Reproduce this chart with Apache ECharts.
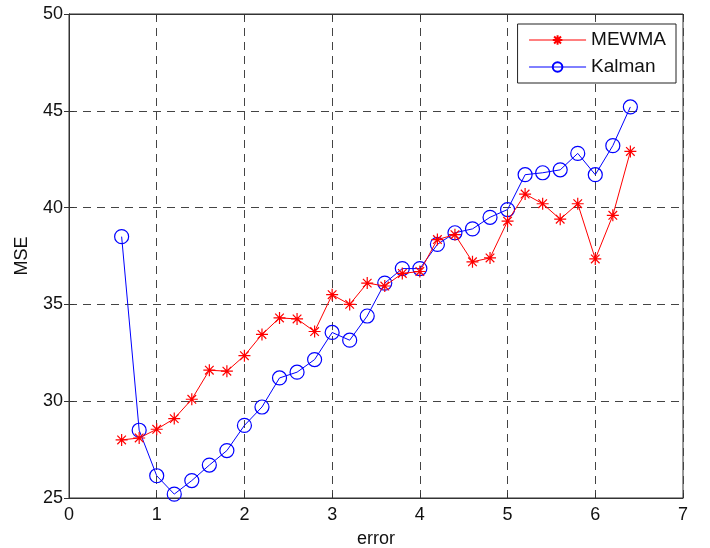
<!DOCTYPE html>
<html>
<head>
<meta charset="utf-8">
<script src="https://cdn.jsdelivr.net/npm/echarts@6/dist/echarts.min.js"></script>
<style>
  html, body { margin: 0; padding: 0; background: #fff; }
  #chart { width: 710px; height: 548px; }
</style>
</head>
<body>
<div id="chart"></div>
<script>
var errors = [0.6, 0.8, 1.0, 1.2, 1.4, 1.6, 1.8, 2.0, 2.2, 2.4, 2.6, 2.8, 3.0, 3.2, 3.4,
              3.6, 3.8, 4.0, 4.2, 4.4, 4.6, 4.8, 5.0, 5.2, 5.4, 5.6, 5.8, 6.0, 6.2, 6.4];
var mewma = [28.0, 28.1, 28.55, 29.1, 30.1, 31.6, 31.55, 32.35, 33.45, 34.3, 34.25, 33.6, 35.5, 35.0, 36.1,
             35.95, 36.6, 36.7, 38.35, 38.6, 37.2, 37.4, 39.3, 40.7, 40.2, 39.4, 40.2, 37.35, 39.6, 42.9];
var kalman = [38.5, 28.5, 26.15, 25.2, 25.9, 26.7, 27.45, 28.75, 29.7, 31.2, 31.5, 32.15, 33.55, 33.15, 34.4,
              36.1, 36.85, 36.85, 38.1, 38.7, 38.9, 39.5, 39.9, 41.7, 41.8, 41.95, 42.8, 41.7, 43.2, 45.2];

function pairs(xs, ys) {
    return xs.map(function (x, i) { return [x, ys[i]]; });
}

var asterisk = 'path://M0,-6L0,6M-6,0L6,0M-4.3,-4.3L4.3,4.3M-4.3,4.3L4.3,-4.3';
var labelFont = { color: '#111', fontSize: 18, fontFamily: 'Liberation Sans' };
var gridDash = { color: '#444', width: 1, type: [8, 6] };

var myChart = echarts.init(document.getElementById('chart'), null, { renderer: 'canvas' });

var option = {
    backgroundColor: '#fff',
    animation: false,
    grid: {
        left: 69, right: 27, top: 14, bottom: 50,
        outerBoundsMode: 'none', containLabel: false,
        show: true, borderColor: '#333', borderWidth: 1
    },
    legend: {
        right: 34, top: 24,
        orient: 'vertical',
        itemWidth: 57, itemHeight: 12, itemGap: 7,
        padding: [6, 10, 6, 11],
        borderColor: '#222', borderWidth: 1,
        backgroundColor: '#fff',
        lineStyle: { width: 1 },
        textStyle: { color: '#111', fontSize: 19, lineHeight: 20, fontFamily: 'Liberation Sans' },
        data: ['MEWMA', 'Kalman']
    },
    xAxis: [{
        type: 'value', min: 0, max: 7, interval: 1,
        name: 'error', nameLocation: 'middle', nameGap: 32,
        nameTextStyle: labelFont,
        axisLine: { onZero: false, lineStyle: { color: '#333' } },
        axisTick: { inside: true, length: 5, lineStyle: { color: '#333' } },
        axisLabel: Object.assign({ margin: 8 }, labelFont),
        splitLine: { show: true, lineStyle: gridDash }
    }, {
        type: 'value', min: 0, max: 7, interval: 1, position: 'top',
        axisLine: { lineStyle: { color: '#333' } },
        axisTick: { inside: true, length: 5, lineStyle: { color: '#333' } },
        axisLabel: { show: false }, splitLine: { show: false }
    }],
    yAxis: [{
        type: 'value', min: 25, max: 50, interval: 5,
        name: 'MSE', nameLocation: 'middle', nameGap: 38,
        nameTextStyle: labelFont,
        axisLine: { show: true, onZero: false, lineStyle: { color: '#333' } },
        axisTick: { show: true, inside: true, length: 5, lineStyle: { color: '#333' } },
        axisLabel: Object.assign({ margin: 6 }, labelFont),
        splitLine: { show: true, lineStyle: gridDash }
    }, {
        type: 'value', min: 25, max: 50, interval: 5, position: 'right',
        axisLine: { show: true, lineStyle: { color: '#333' } },
        axisTick: { show: true, inside: true, length: 5, lineStyle: { color: '#333' } },
        axisLabel: { show: false }, splitLine: { show: false }
    }],
    series: [
        {
            name: 'MEWMA',
            type: 'line',
            data: pairs(errors, mewma),
            symbol: asterisk,
            symbolSize: 12,
            showAllSymbol: true,
            lineStyle: { color: '#ff0000', width: 1 },
            itemStyle: { color: '#ff0000', borderColor: '#ff0000', borderWidth: 1.2 },
            z: 3
        },
        {
            name: 'Kalman',
            type: 'line',
            data: pairs(errors, kalman),
            symbol: 'circle',
            symbolSize: 14,
            showAllSymbol: true,
            lineStyle: { color: '#0000ff', width: 1 },
            itemStyle: { color: 'rgba(255,255,255,0)', borderColor: '#0000ff', borderWidth: 1.2 },
            z: 2
        }
    ]
};

myChart.setOption(option);
</script>
</body>
</html>
